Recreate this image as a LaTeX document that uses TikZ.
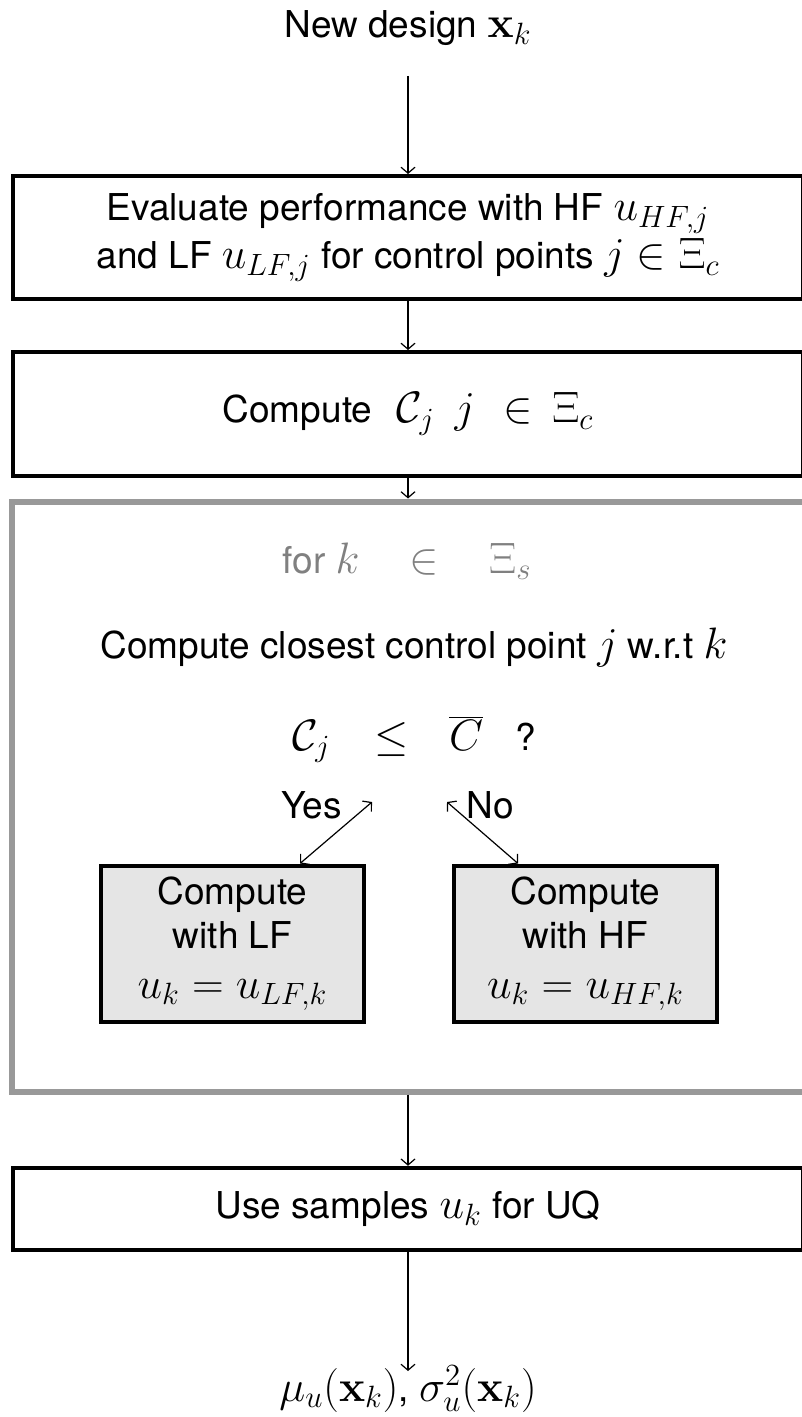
\RequirePackage{fix-cm}
\documentclass[tikz,border=0pt]{standalone}
\usepackage[no-math]{fontspec}
\setmainfont{TeX Gyre Heros}
\usetikzlibrary{arrows.meta}
\DeclareMathSizes{18.5}{22}{15.4}{11}
\begin{document}
\begin{tikzpicture}[x=0.5pt,y=-0.5pt,
  every node/.style={font=\fontsize{18.5}{23}\selectfont},
  blk/.style={draw=black, line width=2pt, minimum width=395pt, minimum height=61.75pt, inner sep=0pt, align=center},
  sub/.style={draw=black, line width=2pt, fill=black!10, minimum width=131.5pt, minimum height=78.25pt, inner sep=0pt, align=center, font=\fontsize{18.5}{22}\selectfont},
  loopbox/.style={draw=black!40, line width=3pt, minimum width=396.5pt, minimum height=295pt, inner sep=0pt},
  arr/.style={-{Straight Barb[length=3pt,width=7pt]}, line width=0.6pt},
  darr/.style={{Straight Barb[length=3pt,width=7pt]}-{Straight Barb[length=3pt,width=7pt]}, line width=0.6pt},
  lbl/.style={anchor=base, inner sep=0pt}]
\useasboundingbox (0,0) rectangle (802,1417);
\clip (0,0) rectangle (802,1417);

\node[lbl] (new) at (408,38) {New design $\mathbf{x}_k$};
\node[blk] (eval) at (408,237.75) {Evaluate performance with HF $u_{HF,j}$\\[1pt]and LF $u_{LF,j}$ for control points $j\in\Xi_c$};
\node[blk] (cc) at (408,413.75) {Compute\hspace{12pt}$\mathcal{C}_j\hspace{10pt}j\hspace{14pt}{\in}\hspace{10pt}\Xi_c$};
\node[loopbox] (loop) at (408,796.5) {};
\node[lbl, text=black!50] (for) at (407,573) {for $k\hspace{19pt}\in\hspace{19pt}\Xi_s$};
\node[lbl] (close) at (414,658) {Compute closest control point $j$ w.r.t $k$};
\node[lbl] (cond) at (414,750) {$\mathcal{C}_j\hspace{16pt}\leq\hspace{14pt}\overline{C}$\hspace{16pt}?};
\node[lbl] (yes) at (311.5,818) {Yes};
\node[lbl] (no) at (490,818) {No};
\node[sub] (lf) at (232.5,943.75) {Compute\\with LF\\[3pt]$u_k = u_{LF,k}$};
\node[sub] (hf) at (585.5,943.75) {Compute\\with HF\\[3pt]$u_k = u_{HF,k}$};
\node[blk, minimum height=41.25pt] (uq) at (408,1209) {Use samples $u_k$ for UQ};
\node[lbl] (res) at (408,1401) {$\mu_u(\mathbf{x}_k)$, $\sigma_u^2(\mathbf{x}_k)$};

\coordinate (yt) at (372,802);
\coordinate (yb) at (300,863.5);
\coordinate (nt) at (447,802);
\coordinate (nb) at (518,863.5);

\draw[arr, shorten <=19pt] (new.base) -- (eval.north);
\draw[arr] (eval.south) -- (cc.north);
\draw[arr] (cc.south) -- (loop.north);
\draw[arr] (loop.south) -- (uq.north);
\draw[arr, shorten >=15pt] (uq.south) -- (res.base);
\draw[darr] (yt) -- (yb);
\draw[darr] (nt) -- (nb);
\end{tikzpicture}
\end{document}
